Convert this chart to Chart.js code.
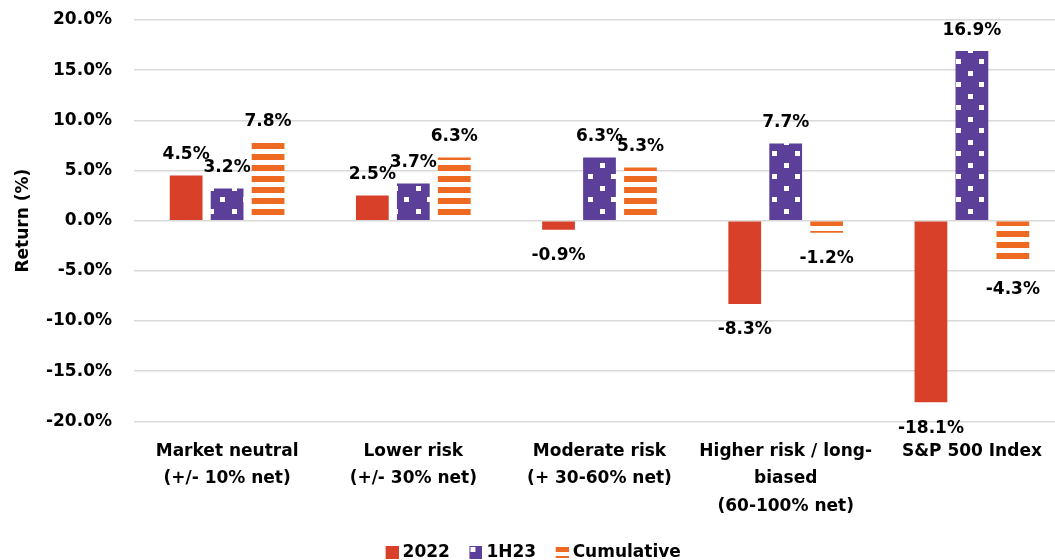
<!DOCTYPE html>
<html lang="en">
<head>
    <meta charset="UTF-8">
    <title>Hedge fund returns</title>
    <script src="https://cdn.jsdelivr.net/npm/chart.js@4"></script>
    <style>
        html, body { margin: 0; padding: 0; background: #fff; overflow: hidden; }
        #wrap { width: 1065px; height: 571px; }
    </style>
</head>
<body>
    <div id="wrap"><canvas id="paint"></canvas></div>
    <script>
        var categories = [
            ["Market neutral", "(+/- 10% net)"],
            ["Lower risk", "(+/- 30% net)"],
            ["Moderate risk", "(+ 30-60% net)"],
            ["Higher risk / long-", "biased", "(60-100% net)"],
            "S&P 500 Index"
        ]
        var seriesNames = ["2022", "1H23", "Cumulative"]
        var values2022 = [4.5, 2.5, -0.9, -8.3, -18.1]
        var values1H23 = [3.2, 3.7, 6.3, 7.7, 16.9]
        var valuesCumulative = [7.8, 6.3, 5.3, -1.2, -4.3]
        var yTicks = [-20, -15, -10, -5, 0, 5, 10, 15, 20]

        var RED = "#d9402a", PURPLE = "#5b3f99", ORANGE = "#ee6a22"
        var FONT = "'DejaVu Sans', sans-serif"

        // fill patterns
        function dotPattern() {
            var c = document.createElement("canvas")
            c.width = 23; c.height = 23
            var g = c.getContext("2d")
            g.fillStyle = PURPLE
            g.fillRect(0, 0, 23, 23)
            g.fillStyle = "#fff"
            g.fillRect(2, 2, 5, 5)
            g.fillRect(13, 13, 5, 5)
            return c
        }
        function stripePattern() {
            var c = document.createElement("canvas")
            c.width = 11; c.height = 11
            var g = c.getContext("2d")
            g.fillStyle = "#fff"
            g.fillRect(0, 0, 11, 11)
            g.fillStyle = ORANGE
            g.fillRect(0, 0, 11, 6)
            return c
        }
        // legend icons (left 6px transparent so the icon sits closer to its text)
        function icon(kind) {
            var c = document.createElement("canvas")
            c.width = 19; c.height = 13
            var g = c.getContext("2d")
            g.translate(6, 0)
            if (kind == 0) {
                g.fillStyle = RED; g.fillRect(0, 0, 13, 13)
            } else if (kind == 1) {
                g.fillStyle = PURPLE; g.fillRect(0, 0, 13, 13)
                g.fillStyle = "#fff"; g.fillRect(1, 1, 5, 5)
            } else {
                g.fillStyle = ORANGE; g.fillRect(0, 1, 13, 5)
                g.fillRect(0, 10, 13, 2)
            }
            return c
        }

        var ctx = document.getElementById("paint").getContext("2d")
        var dots = ctx.createPattern(dotPattern(), "repeat")
        var stripes = ctx.createPattern(stripePattern(), "repeat")
        var icons = [icon(0), icon(1), icon(2)]

        var barLabels = {
            id: "barLabels",
            afterDatasetsDraw: function (chart) {
                var c = chart.ctx
                c.save()
                c.font = "bold 17px " + FONT
                c.fillStyle = "#000"
                c.textAlign = "center"
                c.textBaseline = "middle"
                chart.data.datasets.forEach(function (ds, i) {
                    chart.getDatasetMeta(i).data.forEach(function (bar, j) {
                        var v = ds.data[j]
                        var y = v >= 0 ? bar.y - 21 : bar.y + 26
                        c.fillText(v.toFixed(1) + "%", bar.x, y)
                    })
                })
                c.restore()
            }
        }

        var chart = new Chart(ctx, {
            type: "bar",
            data: {
                labels: categories,
                datasets: [
                    { label: seriesNames[0], data: values2022, backgroundColor: RED },
                    { label: seriesNames[1], data: values1H23, backgroundColor: dots },
                    { label: seriesNames[2], data: valuesCumulative, backgroundColor: stripes }
                ]
            },
            options: {
                responsive: true,
                maintainAspectRatio: false,
                animation: false,
                layout: { padding: { top: 20, right: 0, left: 0, bottom: 0 } },
                datasets: { bar: { categoryPercentage: 0.66, barPercentage: 0.8 } },
                scales: {
                    x: {
                        grid: { display: false },
                        border: { display: false },
                        afterFit: function (axis) { axis.height -= 2 },
                        ticks: {
                            color: "#000",
                            font: { family: FONT, size: 17, weight: "bold", lineHeight: 1.62 },
                            maxRotation: 0,
                            autoSkip: false,
                            padding: 8
                        }
                    },
                    y: {
                        min: -20,
                        max: 20,
                        afterBuildTicks: function (axis) {
                            axis.ticks = yTicks.map(function (v) { return { value: v } })
                        },
                        afterFit: function (axis) { axis.width = 134 },
                        grid: { color: "#d9d9d9", lineWidth: 1.5, drawTicks: true, tickLength: 20, tickColor: "rgba(0,0,0,0)" },
                        border: { display: false },
                        ticks: {
                            color: "#000",
                            padding: 2,
                            font: { family: FONT, size: 17, weight: "bold" },
                            callback: function (v) { return v.toFixed(1) + "%" }
                        },
                        title: {
                            display: true,
                            text: "Return (%)",
                            color: "#000",
                            font: { family: FONT, size: 17, weight: "bold" },
                            padding: { top: 13, bottom: 0 }
                        }
                    }
                },
                plugins: {
                    tooltip: { enabled: false },
                    legend: {
                        position: "bottom",
                        labels: {
                            color: "#000",
                            font: { family: FONT, size: 17, weight: "bold" },
                            usePointStyle: true,
                            pointStyleWidth: 10,
                            padding: 18,
                            generateLabels: function (chart) {
                                var items = Chart.defaults.plugins.legend.labels.generateLabels(chart)
                                items.forEach(function (it, i) { it.pointStyle = icons[i] })
                                return items
                            }
                        }
                    }
                }
            },
            plugins: [barLabels]
        })
    </script>
</body>
</html>
